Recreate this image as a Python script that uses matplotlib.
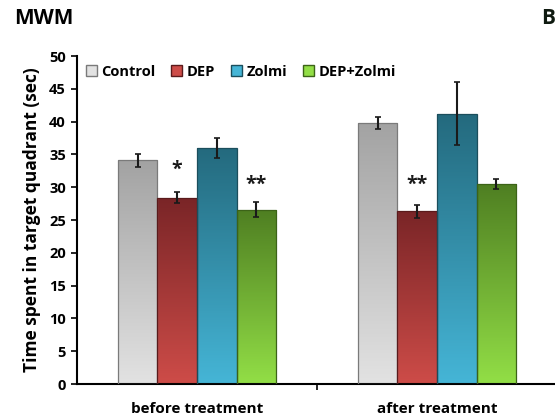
import numpy as np
import matplotlib
matplotlib.use('Agg')
import matplotlib.pyplot as plt
from matplotlib.colors import LinearSegmentedColormap
from matplotlib.patches import Patch

plt.rcParams['font.family'] = ['Open Sans', 'DejaVu Sans']
plt.rcParams['font.weight'] = 'bold'

# data
groups = ['before treatment', 'after treatment']
series = ['Control', 'DEP', 'Zolmi', 'DEP+Zolmi']
means = {
    'Control':   [34.1, 39.8],
    'DEP':       [28.4, 26.3],
    'Zolmi':     [36.0, 41.2],
    'DEP+Zolmi': [26.6, 30.5],
}
errs = {
    'Control':   [1.0, 0.9],
    'DEP':       [0.8, 1.0],
    'Zolmi':     [1.5, 4.8],
    'DEP+Zolmi': [1.1, 0.8],
}
# significance marks: (series, group index, label, y)
stars = [('DEP', 0, '*', 32.7), ('DEP+Zolmi', 0, '**', 30.4), ('DEP', 1, '**', 30.4)]

# gradient colours (top, bottom) and edge colour
grad = {
    'Control':   ('#a3a3a3', '#e2e2e2', '#7a7a7a'),
    'DEP':       ('#7a2527', '#cd4c48', '#5a1a1b'),
    'Zolmi':     ('#246a7e', '#45b5d6', '#1b4e5c'),
    'DEP+Zolmi': ('#4f7f22', '#92de46', '#3c6318'),
}

fig = plt.figure(figsize=(5.55, 4.2), dpi=100)
ax = fig.add_axes([77 / 555, 36 / 420, 504 / 555, 328 / 420])

width = 0.165
x = np.arange(len(groups))
offsets = (np.arange(len(series)) - 1.5) * width

for i, s in enumerate(series):
    top, bot, edge = grad[s]
    cmap = LinearSegmentedColormap.from_list(s, [bot, top])
    xs = x + offsets[i]
    bars = ax.bar(xs, means[s], width, facecolor='none', edgecolor=edge, linewidth=0.9, zorder=3)
    for b in bars:
        bx, by = b.get_x(), b.get_y()
        bw, bh = b.get_width(), b.get_height()
        img = ax.imshow(np.linspace(0, 1, 100).reshape(-1, 1), cmap=cmap, origin='lower',
                        extent=[bx, bx + bw, by, by + bh], aspect='auto', zorder=2)
        img.set_clip_path(b)
    ax.errorbar(xs, means[s], yerr=errs[s], fmt='none', ecolor='#1a1a1a',
                elinewidth=1.5, capsize=2.5, capthick=1.2, zorder=4)

for s, g, lab, yv in stars:
    i = series.index(s)
    ax.text(x[g] + offsets[i], yv, lab, ha='center', va='center', fontsize=14,
            fontweight='bold', color='#1a1a1a', zorder=5)

ax.set_xlim(-0.5, 1.6)
ax.set_ylim(0, 50)
ax.set_yticks(np.arange(0, 51, 5))
ax.set_xticks(x)
ax.set_xticklabels(groups, fontsize=11, fontweight='bold')
ax.set_xticks([0.5], minor=True)
ax.tick_params(axis='x', which='major', length=0, pad=13)
ax.tick_params(axis='x', which='minor', length=4, width=1.2, direction='out')
ax.tick_params(axis='y', length=4, width=1.2, direction='out', labelsize=10.5, pad=4)
for lab in ax.get_yticklabels():
    lab.set_fontweight('bold')

for sp in ['top', 'right']:
    ax.spines[sp].set_visible(False)
ax.spines['left'].set_linewidth(1.5)
ax.spines['bottom'].set_linewidth(1.5)

ax.set_ylabel('Time spent in target quadrant (sec)', fontsize=12.5, fontweight='bold', labelpad=6)

handles = [Patch(facecolor=grad[s][1], edgecolor=grad[s][2], label=s) for s in series]
ax.legend(handles=handles, loc='upper left', ncol=4, frameon=False, fontsize=10.5,
          handlelength=0.75, handleheight=0.75, handletextpad=0.3, columnspacing=1.1,
          bbox_to_anchor=(0.0, 1.0), borderaxespad=0.2)

fig.text(14 / 555, 1 - 19 / 420, 'MWM', fontsize=15, fontweight='bold', va='center', ha='left')
fig.text(555 / 555, 1 - 19 / 420, 'B', fontsize=15, fontweight='bold', va='center', ha='right',
         color='#0f1a10')

fig.savefig('out.png', dpi=100)
